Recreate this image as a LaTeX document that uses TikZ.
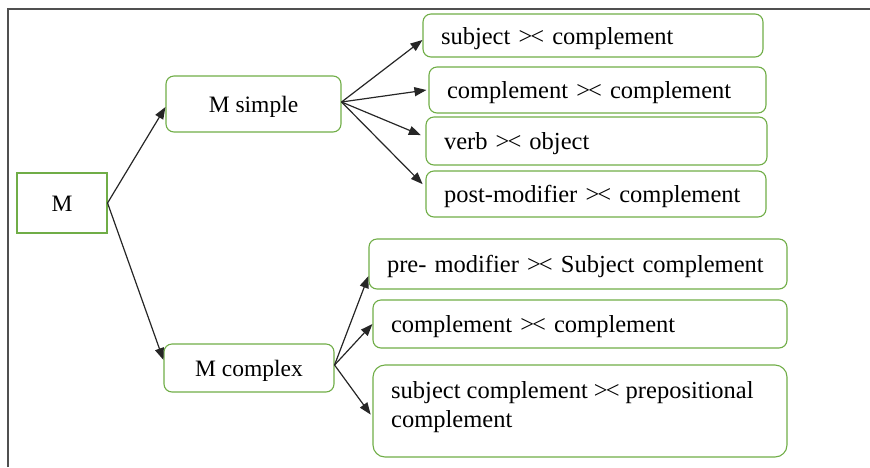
\documentclass[tikz,border=0pt]{standalone}
\usepackage{fontspec}
\setmainfont{Liberation Serif}
\usetikzlibrary{arrows.meta}
\definecolor{boxgreen}{HTML}{70AD47}
\definecolor{framegray}{HTML}{505050}
\newcommand{\gt}{>\kern-2pt<}
\begin{document}
\begin{tikzpicture}[x=1pt,y=-1pt,
  mbox/.style={draw=boxgreen,line width=1.1pt,inner sep=0pt,
    font=\fontsize{23.5}{28}\selectfont,text height=17pt,text depth=0pt},
  leafbox/.style={draw=boxgreen,line width=1.1pt,rounded corners=8pt,
    inner xsep=18pt,inner ysep=0pt,align=left,
    font=\fontsize{24.5}{29}\selectfont,text height=17pt,text depth=0pt},
  conn/.style={line width=1.2pt,draw=black!85,-{Triangle[length=12pt,width=9pt]}},
  frameline/.style={draw=framegray,line width=2pt}]
\useasboundingbox (0,0) rectangle (870,467);
\draw[frameline] (7.5,467) -- (7.5,8.5) -- (870,8.5);

\node[mbox,minimum width=90pt,minimum height=60pt] (m) at (62,203) {M};
\node[mbox,rounded corners=8pt,minimum width=175pt,minimum height=56pt] (ms) at (253.5,104) {M simple};
\node[mbox,rounded corners=8pt,minimum width=170pt,minimum height=48pt] (mc) at (249,368) {M complex};

\node[leafbox,text width=304pt,minimum height=43pt] (b1) at (593,35.5) {subject \gt{} complement};
\node[leafbox,text width=301pt,minimum height=46pt] (b2) at (597.5,90) {complement \gt{} complement};
\node[leafbox,text width=305pt,minimum height=48pt] (b3) at (596.5,141) {verb \gt{} object};
\node[leafbox,text width=304pt,minimum height=46pt] (b4) at (596,194) {post-modifier \gt{} complement};
\node[leafbox,text width=382pt,minimum height=50pt] (b5) at (578,264) {pre- modifier \gt{} Subject complement};
\node[leafbox,text width=378pt,minimum height=48pt] (b6) at (580,324) {complement \gt{} complement};
\node[draw=boxgreen,line width=1.1pt,rounded corners=12pt,minimum width=414pt,minimum height=92pt] (b7) at (580,411) {};
\node[anchor=base west,inner sep=0pt,align=left,font=\fontsize{24.5}{29}\selectfont] (b7t) at (391,427) {subject complement \gt{} prepositional\\complement};

\draw[conn] (m.east) -- ([yshift=-3pt]ms.west);
\draw[conn] (m.east) -- ([yshift=8pt]mc.west);

\draw[conn] ([yshift=2pt]ms.east) -- ([yshift=-4.5pt]b1.west);
\draw[conn] ([yshift=2pt]ms.east) -- ([xshift=-2pt]b2.west);
\draw[conn,shorten >=5pt] ([yshift=2pt]ms.east) -- ([yshift=4pt]b3.west);
\draw[conn,shorten >=4pt] ([yshift=2pt]ms.east) -- ([yshift=7pt]b4.west);

\draw[conn] ([yshift=3pt]mc.east) -- ([yshift=-12pt]b5.west);
\draw[conn] ([yshift=3pt]mc.east) -- (b6.west);
\draw[conn,shorten >=3pt] ([yshift=3pt]mc.east) -- ([yshift=-6pt]b7.west);
\end{tikzpicture}
\end{document}
